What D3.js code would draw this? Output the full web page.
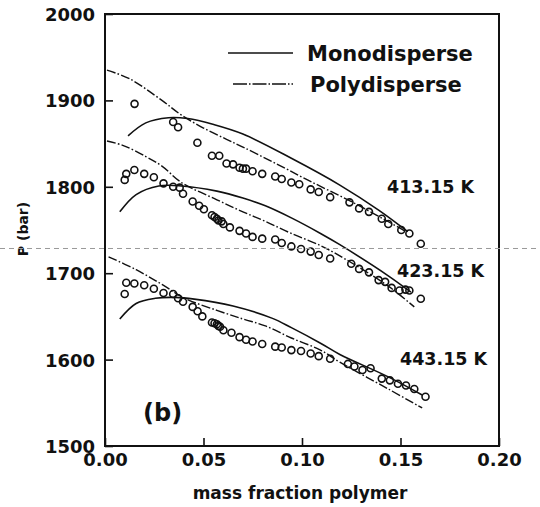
<!DOCTYPE html>
<html>
<head>
<meta charset="utf-8">
<script src="https://cdn.jsdelivr.net/npm/d3@7"></script>
<style>
  html, body { margin: 0; padding: 0; background: #fff; }
  svg { display: block; }
  text { font-family: "DejaVu Sans", sans-serif; font-weight: bold; fill: #111; }
</style>
</head>
<body>
<svg id="chart" width="540" height="507"></svg>
<script>
// ---------------- data ----------------
const xTicks = [0, 0.05, 0.10, 0.15, 0.20];
const xTickLabels = ["0.00", "0.05", "0.10", "0.15", "0.20"];
const yTicks = [1500, 1600, 1700, 1800, 1900, 2000];
const yTickLabels = ["1500", "1600", "1700", "1800", "1900", "2000"];
const legendLabels = ["Monodisperse", "Polydisperse"];
const tempLabels = ["413.15 K", "423.15 K", "443.15 K"];
const panelLabel = "(b)";
const xTitle = "mass fraction polymer";
const yTitle = "P (bar)";
const refLineValue = 1728.6;

// model curves [mass fraction, P]
const mono413 = [[0.0117,1859],[0.0207,1874],[0.0322,1880],[0.042,1879],[0.0552,1872],[0.07,1861],[0.0946,1833],[0.1192,1802],[0.1389,1773],[0.1537,1748]];
const poly413 = [[0.001,1935],[0.0125,1925],[0.0289,1900],[0.0388,1883],[0.05,1868],[0.0617,1855],[0.07,1846],[0.085,1829],[0.1028,1808],[0.1274,1780],[0.153,1748]];
const mono423 = [[0.0075,1771],[0.0158,1791],[0.0273,1801],[0.0388,1801],[0.0568,1795],[0.07,1787],[0.0814,1778],[0.0946,1764],[0.1094,1746],[0.1192,1733],[0.1438,1697],[0.1553,1678]];
const poly423 = [[0.001,1853],[0.009,1848],[0.0207,1835],[0.0289,1824],[0.0388,1805],[0.0568,1785],[0.07,1771],[0.0814,1760],[0.0946,1746],[0.1094,1732],[0.1192,1720],[0.1438,1685],[0.157,1661]];
const mono443 = [[0.0075,1647],[0.0158,1665],[0.0256,1671],[0.0355,1672],[0.0453,1670],[0.065,1662],[0.0847,1648],[0.0946,1637],[0.1094,1619],[0.1192,1606],[0.1438,1580],[0.161,1559]];
const poly443 = [[0.0018,1719],[0.0158,1704],[0.0289,1687],[0.0404,1671],[0.0568,1657],[0.07,1647],[0.0814,1639],[0.0946,1625],[0.1094,1611],[0.1192,1597],[0.1438,1566],[0.161,1544]];

// experimental points
const exp413 = [[0.015,1896],[0.0346,1875],[0.0371,1869],[0.0469,1851],[0.0543,1836],[0.058,1836],[0.0617,1827],[0.065,1826],[0.0683,1822],[0.0700,1821],[0.0716,1821],[0.0749,1818],[0.0798,1815],[0.0864,1812],[0.0897,1809],[0.0946,1805],[0.0986,1803],[0.1044,1797],[0.1085,1794],[0.1143,1788],[0.1241,1782],[0.129,1775],[0.134,1771],[0.1405,1763],[0.1438,1757],[0.1504,1750],[0.1545,1746],[0.1603,1734]];
const exp423 = [[0.01,1808],[0.0108,1815],[0.0149,1819.5],[0.0199,1815],[0.0248,1811],[0.0297,1804],[0.0346,1800],[0.0379,1799],[0.0396,1792],[0.0445,1783],[0.0478,1778],[0.0502,1774],[0.0543,1767],[0.0556,1765],[0.0568,1763],[0.0576,1761],[0.0592,1760],[0.0601,1757],[0.0634,1753],[0.0683,1749],[0.0716,1746],[0.0749,1742],[0.0798,1740],[0.0864,1739],[0.0897,1735],[0.0946,1731],[0.0995,1728],[0.1044,1725],[0.1085,1721],[0.1143,1717],[0.125,1711],[0.129,1705],[0.134,1701],[0.1389,1692],[0.1422,1690],[0.1455,1683],[0.1495,1680],[0.1525,1681],[0.1545,1680],[0.1603,1670.5]];
const exp443 = [[0.01,1676],[0.0108,1689],[0.0149,1688],[0.0199,1686],[0.0248,1682],[0.0297,1677],[0.0346,1676],[0.0371,1671],[0.0396,1667],[0.0445,1661],[0.047,1656],[0.0494,1650],[0.0543,1643],[0.0556,1642],[0.0568,1641],[0.0576,1639],[0.0584,1638],[0.0601,1634],[0.0642,1631],[0.0683,1626],[0.0716,1623],[0.0749,1621],[0.0798,1618],[0.0864,1615],[0.0897,1614],[0.0946,1611],[0.0995,1610],[0.1044,1607],[0.1085,1604],[0.1143,1601],[0.1233,1595],[0.1266,1592],[0.1307,1588],[0.1348,1590],[0.1405,1578],[0.1446,1576],[0.1487,1572],[0.1528,1570],[0.157,1566],[0.1627,1557]];

// ---------------- layout ----------------
const L = 105, R = 499, T = 14, B = 446;
const svg = d3.select("#chart");
const x = d3.scaleLinear().domain([0, 0.2]).range([L, R]);
const y = d3.scaleLinear().domain([1500, 2000]).range([B, T]);

const DASHDOT = "9,2.2,1.6,2.2";

// axes
const yAxis = d3.axisLeft(y).tickValues(yTicks)
  .tickFormat((d, i) => yTickLabels[i]).tickSize(-8).tickPadding(10);
const gy = svg.append("g").attr("transform", `translate(${L},0)`).call(yAxis);
gy.select(".domain").remove();
gy.selectAll(".tick line").attr("stroke", "#111").attr("stroke-width", 1.6);
gy.selectAll(".tick text").attr("font-size", 18).attr("font-family", "DejaVu Sans")
  .attr("font-weight", "bold").attr("fill", "#111").attr("dy", "0.36em");

const xAxis = d3.axisBottom(x).tickValues(xTicks)
  .tickFormat((d, i) => xTickLabels[i]).tickSize(-8).tickPadding(7);
const gx = svg.append("g").attr("transform", `translate(0,${B})`).call(xAxis);
gx.select(".domain").remove();
gx.selectAll(".tick line").attr("stroke", "#111").attr("stroke-width", 1.6);
gx.selectAll(".tick text").attr("font-size", 18).attr("font-family", "DejaVu Sans")
  .attr("font-weight", "bold").attr("fill", "#111");

// frame
svg.append("rect").attr("x", L).attr("y", T).attr("width", R - L).attr("height", B - T)
  .attr("fill", "none").attr("stroke", "#111").attr("stroke-width", 2);

// curves
const line = d3.line().x(d => x(d[0])).y(d => y(d[1])).curve(d3.curveCatmullRom.alpha(0.5));
const curves = [
  {data: mono413, dash: null}, {data: poly413, dash: DASHDOT},
  {data: mono423, dash: null}, {data: poly423, dash: DASHDOT},
  {data: mono443, dash: null}, {data: poly443, dash: DASHDOT}
];
svg.append("g").selectAll("path").data(curves).join("path")
  .attr("d", d => line(d.data))
  .attr("fill", "none").attr("stroke", "#111")
  .attr("stroke-width", d => d.dash ? 1.4 : 1.6)
  .attr("stroke-dasharray", d => d.dash);

// points
const pts = [].concat(exp413, exp423, exp443);
svg.append("g").selectAll("circle").data(pts).join("circle")
  .attr("cx", d => x(d[0])).attr("cy", d => y(d[1])).attr("r", 3.5)
  .attr("fill", "none").attr("stroke", "#111").attr("stroke-width", 1.6);

// legend
const legend = svg.append("g");
const legY = [53, 84];
const legX1 = [228, 233];
const legTextX = [307, 310];
legendLabels.forEach((lab, i) => {
  legend.append("line").attr("x1", legX1[i]).attr("x2", 293)
    .attr("y1", legY[i]).attr("y2", legY[i])
    .attr("stroke", "#111").attr("stroke-width", 1.6)
    .attr("stroke-dasharray", i === 1 ? "14,2,1.5,2" : null);
  legend.append("text").attr("x", legTextX[i]).attr("y", legY[i] + 8)
    .attr("font-size", 21).text(lab);
});

// temperature labels
const tempPos = [[387, 193], [397, 277], [400, 365]];
tempLabels.forEach((lab, i) => {
  svg.append("text").attr("x", tempPos[i][0]).attr("y", tempPos[i][1])
    .attr("font-size", 17.5).text(lab);
});

// panel label
svg.append("text").attr("x", 143).attr("y", 421).attr("font-size", 24).text(panelLabel);

// axis titles
svg.append("text").attr("x", 300).attr("y", 499).attr("text-anchor", "middle")
  .attr("font-size", 17).text(xTitle);
svg.append("text").attr("transform", "translate(28,229) rotate(-90)")
  .attr("text-anchor", "middle").attr("font-size", 14).text(yTitle);

// horizontal dashed reference line across the whole image
svg.append("line").attr("x1", 0).attr("x2", 540)
  .attr("y1", y(refLineValue)).attr("y2", y(refLineValue))
  .attr("stroke", "#999").attr("stroke-width", 1).attr("stroke-dasharray", "5,4");
</script>
</body>
</html>
